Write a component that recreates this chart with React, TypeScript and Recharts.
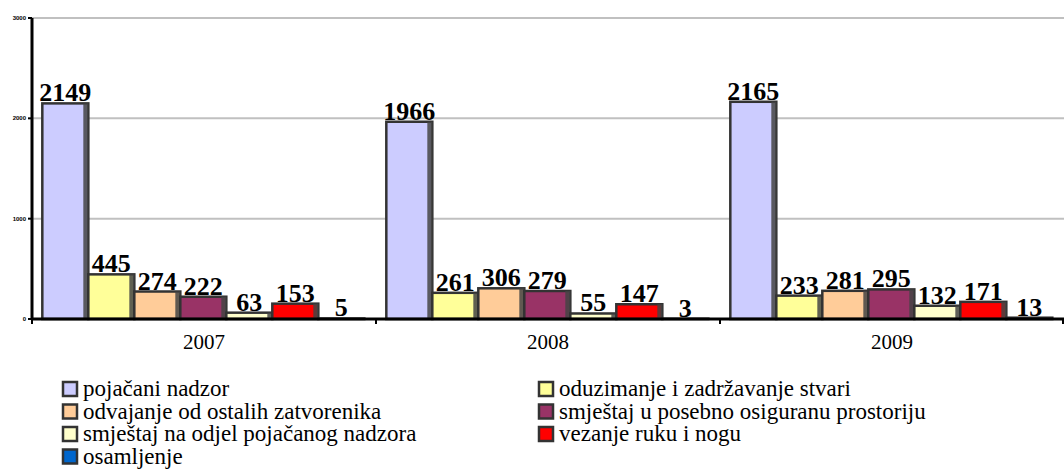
import React from "react";
import { BarChart, Bar, XAxis, YAxis, CartesianGrid, LabelList } from "recharts";

const years = ["2007", "2008", "2009"];
const pojacaniNadzor = [2149, 1966, 2165];
const oduzimanje = [445, 261, 233];
const odvajanje = [274, 306, 281];
const posebnaProstorija = [222, 279, 295];
const odjelPojacanog = [63, 55, 132];
const vezanje = [153, 147, 171];
const osamljenje = [5, 3, 13];
const yTicks = [0, 1000, 2000, 3000];

const series = [
  { key: "a", name: "pojačani nadzor", values: pojacaniNadzor, color: "#ccccff" },
  { key: "b", name: "oduzimanje i zadržavanje stvari", values: oduzimanje, color: "#ffff99" },
  { key: "c", name: "odvajanje od ostalih zatvorenika", values: odvajanje, color: "#ffcc99" },
  { key: "d", name: "smještaj u posebno osiguranu prostoriju", values: posebnaProstorija, color: "#993366" },
  { key: "e", name: "smještaj na odjel pojačanog nadzora", values: odjelPojacanog, color: "#ffffcc" },
  { key: "f", name: "vezanje ruku i nogu", values: vezanje, color: "#ff0000" },
  { key: "g", name: "osamljenje", values: osamljenje, color: "#0066cc" },
];

const data = years.map((y, i) => {
  const row: Record<string, string | number> = { year: y };
  series.forEach((s) => (row[s.key] = s.values[i]));
  return row;
});

const serif = "Liberation Serif";

const Bar3D = (props: any) => {
  const { x, y, width, height, fill } = props;
  if (height <= 0) return null;
  return (
    <g>
      <rect x={x} y={y} width={width} height={height} fill={fill} stroke="#333" strokeWidth={2.5} />
      <rect x={x + width - 5} y={y} width={5} height={height} fill="#444" opacity={0.85} />
    </g>
  );
};

const YearTick = (props: any) => {
  const { x, y, payload, index } = props;
  const half = (1064 - 32) / 6;
  return (
    <g>
      <line x1={x - half} y1={y - 8} x2={x - half} y2={y - 3} stroke="#000" strokeWidth={2} />
      {index === 2 && <line x1={x + half - 1} y1={y - 8} x2={x + half - 1} y2={y - 3} stroke="#000" strokeWidth={2} />}
      <text x={x} y={y + 22} textAnchor="middle" fontFamily={serif} fontSize={21} fill="#000">
        {payload.value}
      </text>
    </g>
  );
};

// legend drawn as svg text so it uses the same serif as the chart
const LegendBox = () => (
  <svg width={1064} height={99} style={{ position: "absolute", left: 0, top: 370 }}>
    {series.map((s, i) => {
      const col = i % 2;
      const row = Math.floor(i / 2);
      const x = col === 0 ? 63 : 539;
      const cy = 19 + row * 22.5;
      return (
        <g key={s.key}>
          <rect x={x} y={cy - 7} width={14} height={14} fill={s.color} stroke="#333" strokeWidth={2.5} />
          <text x={x + 20} y={cy + 7} fontFamily={serif} fontSize={23} fill="#000">
            {s.name}
          </text>
        </g>
      );
    })}
  </svg>
);

export default function App() {
  return (
    <div style={{ position: "absolute", left: 0, top: 0, width: 1064, height: 469, background: "#fff" }}>
      <BarChart
        width={1064}
        height={469}
        data={data}
        margin={{ top: 18, right: 0, left: 0, bottom: 120 }}
        barCategoryGap="3%"
        barGap={0}
      >
        <CartesianGrid vertical={false} stroke="#c0c0c0" strokeWidth={2} />
        <XAxis
          dataKey="year"
          height={30}
          axisLine={{ stroke: "#000", strokeWidth: 3 }}
          tickLine={false}
          tick={<YearTick />}
          interval={0}
        />
        <YAxis
          width={32}
          domain={[0, 3000]}
          ticks={yTicks}
          axisLine={{ stroke: "#000", strokeWidth: 3 }}
          tickLine={{ stroke: "#000", strokeWidth: 2 }}
          tickSize={4}
          tick={{ fontSize: 6, fontWeight: 700, fill: "#000", fontFamily: "Arial, sans-serif" }}
        />
        {series.map((s) => (
          <Bar key={s.key} dataKey={s.key} name={s.name} fill={s.color} shape={<Bar3D />} isAnimationActive={false}>
            <LabelList
              dataKey={s.key}
              position="top"
              offset={2}
              style={{ fontFamily: serif, fontSize: 26, fontWeight: 700, fill: "#000" }}
            />
          </Bar>
        ))}
      </BarChart>
      <LegendBox />
    </div>
  );
}
